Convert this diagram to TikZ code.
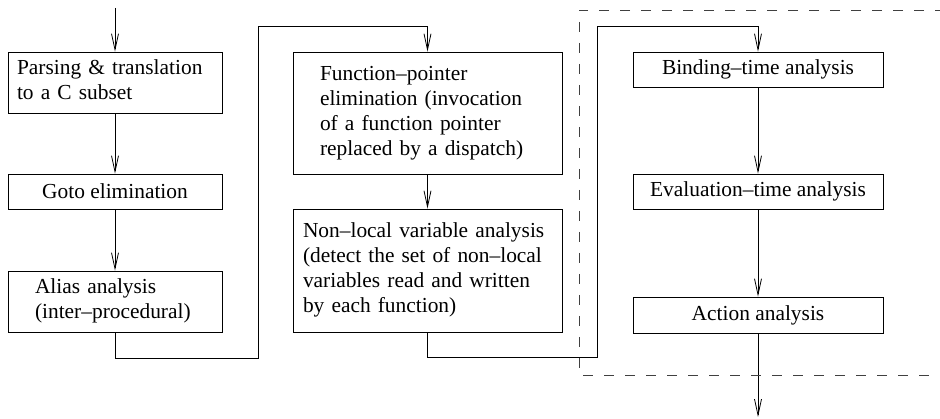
\documentclass[tikz,border=0pt]{standalone}
\usepackage{fontspec}
\setmainfont{Liberation Serif}
\usetikzlibrary{arrows.meta}
\begin{document}
\begin{tikzpicture}[x=1pt,y=-1pt,
  box/.style={draw, line width=0.8pt, inner ysep=0pt, font=\fontsize{21.4}{25}\selectfont},
  onebox/.style={box, minimum width=#1, minimum height=35pt, inner xsep=0pt, align=center},
  multibox/.style n args={4}{box, minimum height=#2, text width=#3, inner xsep=#4, align=left},
  conn/.style={line width=0.8pt, -{Straight Barb[length=16pt,width=7pt,line width=0.8pt]}},
  plain/.style={line width=0.8pt},
  region/.style={line width=0.8pt, draw=black!75, dash pattern=on 10pt off 11pt}
]
\useasboundingbox (0,0) rectangle (940,419);

% left column
\node[multibox={214pt}{61pt}{196pt}{9pt}] (p1) at (115,82.5)
  {\begin{tabular}{@{}l@{}}Parsing \& translation\\to a C subset\end{tabular}};
\node[onebox=214pt] (p2) at (115,191.5) {Goto elimination};
\node[multibox={214pt}{61pt}{160pt}{27pt}] (p3) at (115,301.5)
  {\begin{tabular}{@{}l@{}}Alias analysis\\(inter--procedural)\end{tabular}};

% middle column
\node[multibox={269pt}{122pt}{215pt}{27pt}] (p4) at (427.5,113)
  {\begin{tabular}{@{}l@{}}Function--pointer\\elimination (invocation\\of a function pointer\\replaced by a dispatch)\end{tabular}};
\node[multibox={269pt}{123pt}{249pt}{10pt}] (p5) at (427.5,270.5)
  {\begin{tabular}{@{}l@{}}Non--local variable analysis\\(detect the set of non--local\\variables read and written\\by each function)\end{tabular}};

% right column
\node[onebox=250pt] (p6) at (758,69.5) {Binding--time analysis};
\node[onebox=250pt] (p7) at (758,191.5) {Evaluation--time analysis};
\node[onebox=250pt, minimum height=36pt] (p8) at (758,315) {Action analysis};

% free ends and bends
\coordinate (in) at (115,8);
\coordinate (out) at (758,417);
\coordinate (c1) at (258,358);
\coordinate (c2) at (258,26);
\coordinate (c3) at (597,357);
\coordinate (c4) at (597,26);

% connectors
\draw[conn] (in) -- (p1.north);
\draw[conn] (p1) -- (p2);
\draw[conn] (p2) -- (p3);
\draw[conn] (p3.south) |- (c1) -- (c2) -| (p4.north);
\draw[conn] (p4) -- (p5);
\draw[conn] (p5.south) |- (c3) -- (c4) -| (p6.north);
\draw[conn] (p6) -- (p7);
\draw[conn] (p7) -- (p8);
\draw[conn] (p8) -- (out);

% dashed region
\coordinate (r1) at (945,10);
\coordinate (r2) at (579,10);
\coordinate (r3) at (579,375);
\coordinate (r4) at (945,375);
\draw[region] (r1) -- (r2) -- (r3) -- (r4);
\end{tikzpicture}
\end{document}
